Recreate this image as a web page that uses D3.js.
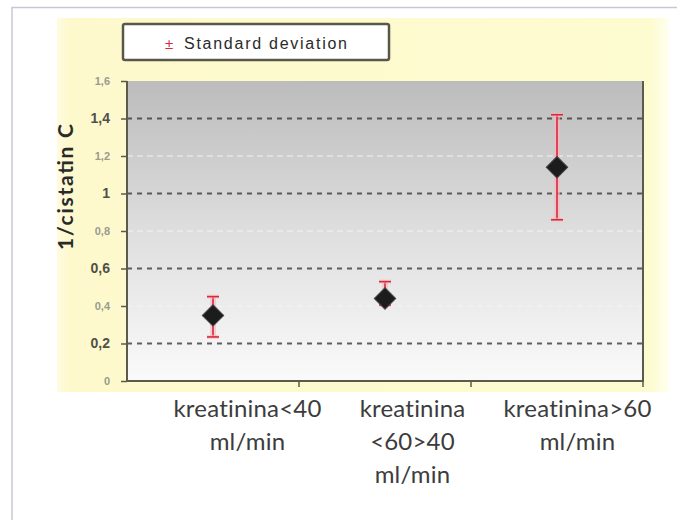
<!DOCTYPE html>
<html><head><meta charset="utf-8">
<script src="https://cdn.jsdelivr.net/npm/d3@7"></script>
<style>html,body{margin:0;padding:0;background:#fff;}svg{display:block;}</style>
</head><body>
<script>
const categories = ["kreatinina <40 ml/min", "kreatinina <60>40 ml/min", "kreatinina >60 ml/min"];
const labelLines = [["kreatinina<40", "ml/min"], ["kreatinina", "<60>40", "ml/min"], ["kreatinina>60", "ml/min"]];
const means = [0.35, 0.44, 1.14];
const errLow = [0.115, 0.035, 0.28];
const errHigh = [0.10, 0.09, 0.28];
const yTicks = [0, 0.2, 0.4, 0.6, 0.8, 1, 1.2, 1.4, 1.6];
const majorTicks = [0.2, 0.6, 1, 1.4];
const yTitle = "1/cistatin C";
const legendText = "Standard deviation";

const W = 677, H = 520;
const svg = d3.select("body").append("svg").attr("width", W).attr("height", H);
const defs = svg.append("defs");

const plot = {left: 127, right: 643, top: 81, bottom: 381};
const x = d3.scaleBand().domain(categories).range([plot.left, plot.right]);
const xLab = d3.scaleBand().domain(categories).range([165, 660]);
const y = d3.scaleLinear().domain([0, 1.6]).range([plot.bottom, plot.top]);

// outer frame
svg.append("path").attr("d", `M12,${H} L12,7.5 L${W},7.5`).attr("fill", "none").attr("stroke", "#c6c8d2").attr("stroke-width", 1.5);

// yellow chart area
const yg = defs.append("linearGradient").attr("id", "yel").attr("x1", 0).attr("x2", 1).attr("y1", 0).attr("y2", 0);
yg.append("stop").attr("offset", 0).attr("stop-color", "#fffbe0");
yg.append("stop").attr("offset", 0.02).attr("stop-color", "#fdf9cc");
yg.append("stop").attr("offset", 0.97).attr("stop-color", "#fdfbd0");
yg.append("stop").attr("offset", 1).attr("stop-color", "#fffff0");
svg.append("rect").attr("x", 57).attr("y", 18).attr("width", 612).attr("height", 374).attr("fill", "url(#yel)");

// plot area gradient
const pg = defs.append("linearGradient").attr("id", "pg").attr("x1", 0).attr("x2", 0).attr("y1", 0).attr("y2", 1);
pg.append("stop").attr("offset", 0).attr("stop-color", "#bcbcbc");
pg.append("stop").attr("offset", 0.5).attr("stop-color", "#dedede");
pg.append("stop").attr("offset", 1).attr("stop-color", "#fafafa");
svg.append("rect").attr("x", plot.left).attr("y", plot.top).attr("width", plot.right - plot.left).attr("height", plot.bottom - plot.top).attr("fill", "url(#pg)");

// grid lines
svg.append("g").selectAll("line").data(yTicks.filter(t => t > 0 && t < 1.6)).join("line")
  .attr("x1", plot.left).attr("x2", plot.right)
  .attr("y1", d => y(d)).attr("y2", d => y(d))
  .attr("stroke", d => majorTicks.includes(d) ? "#3a3a3a" : "#f4f4f4")
  .attr("stroke-width", d => majorTicks.includes(d) ? 2 : 1.2)
  .attr("stroke-dasharray", d => majorTicks.includes(d) ? "5,5" : "6,4")
  .attr("opacity", d => majorTicks.includes(d) ? 0.8 : 1);

// plot border
svg.append("path").attr("d", `M${plot.left},${plot.top} L${plot.left},${plot.bottom} L${plot.right},${plot.bottom} L${plot.right},${plot.top}`)
  .attr("fill", "none").attr("stroke", "#5b5a4c").attr("stroke-width", 2);

// y axis
const yAxis = svg.append("g").attr("transform", `translate(${plot.left},0)`)
  .call(d3.axisLeft(y).tickValues(yTicks).tickSize(6).tickFormat(d => String(d).replace(".", ",")));
yAxis.select(".domain").remove();
yAxis.selectAll(".tick line").attr("stroke", "#5b5a4c").attr("stroke-width", 1.5);
yAxis.selectAll(".tick text").attr("x", -17)
  .attr("font-family", "Liberation Sans, Arial, sans-serif").attr("font-weight", "bold")
  .attr("font-size", d => majorTicks.includes(d) ? 14 : 11)
  .attr("fill", d => majorTicks.includes(d) ? "#505048" : "#9a9a90");

// x axis ticks
const xAxis = svg.append("g").attr("transform", `translate(0,${plot.bottom})`)
  .call(d3.axisBottom(x).tickSize(0).tickFormat(""));
xAxis.select(".domain").remove();
xAxis.selectAll(".tick").remove();
xAxis.selectAll("line.b").data(categories).join("line").attr("class", "b")
  .attr("x1", d => x(d) + x.bandwidth()).attr("x2", d => x(d) + x.bandwidth())
  .attr("y1", 0).attr("y2", 6).attr("stroke", "#5b5a4c").attr("stroke-width", 1.5);

// x labels
const lab = svg.append("g");
categories.forEach((c, i) => {
  const t = lab.append("text").attr("text-anchor", "middle")
    .attr("font-family", "Lato, 'Open Sans', sans-serif").attr("font-size", 24).attr("fill", "#3c3c3c")
    .attr("letter-spacing", 0.2);
  labelLines[i].forEach((ln, j) => {
    t.append("tspan").attr("x", xLab(c) + xLab.bandwidth() / 2).attr("y", 417 + j * 33).text(ln);
  });
});

// y title
svg.append("text").attr("transform", "translate(73,187) rotate(-90)")
  .attr("text-anchor", "middle").attr("font-family", "Lato, sans-serif").attr("font-weight", "bold")
  .attr("font-size", 21).attr("fill", "#2a2a2a").attr("textLength", 126).attr("lengthAdjust", "spacing").text(yTitle);

// error bars
const eb = svg.append("g");
categories.forEach((c, i) => {
  const cx = x(c) + x.bandwidth() / 2;
  const y1 = y(means[i] + errHigh[i]), y0 = y(means[i] - errLow[i]);
  eb.append("line").attr("x1", cx).attr("x2", cx).attr("y1", y1).attr("y2", y0).attr("stroke", "#f7b8c0").attr("stroke-width", 6).attr("opacity", 0.6);
  eb.append("line").attr("x1", cx).attr("x2", cx).attr("y1", y1).attr("y2", y0).attr("stroke", "#d8283c").attr("stroke-width", 1.6);
  [y1, y0].forEach(yy => {
    eb.append("line").attr("x1", cx - 6).attr("x2", cx + 6).attr("y1", yy).attr("y2", yy).attr("stroke", "#f7b8c0").attr("stroke-width", 4).attr("opacity", 0.6);
    eb.append("line").attr("x1", cx - 6).attr("x2", cx + 6).attr("y1", yy).attr("y2", yy).attr("stroke", "#d8283c").attr("stroke-width", 1.6);
  });
});

// markers
svg.append("g").selectAll("path").data(categories).join("path")
  .attr("d", d3.symbol(d3.symbolSquare, 230))
  .attr("transform", (d, i) => `translate(${x(d) + x.bandwidth() / 2},${y(means[i])}) rotate(45)`)
  .attr("fill", "#1c1c1c").attr("stroke", "#444").attr("stroke-width", 1);

// legend
const lg = svg.append("g");
lg.append("rect").attr("x", 123).attr("y", 24).attr("width", 266).attr("height", 36).attr("rx", 2)
  .attr("fill", "#fff").attr("stroke", "#58584a").attr("stroke-width", 2.5);
lg.append("text").attr("x", 165).attr("y", 49).attr("font-family", "Liberation Sans, Arial, sans-serif")
  .attr("font-size", 15).attr("fill", "#d8283c").text("±");
lg.append("text").attr("x", 184).attr("y", 49).attr("font-family", "Liberation Sans, Arial, sans-serif")
  .attr("font-size", 16).attr("fill", "#2a2a2a").attr("textLength", 163).attr("lengthAdjust", "spacing").text(legendText);
</script>
</body></html>
